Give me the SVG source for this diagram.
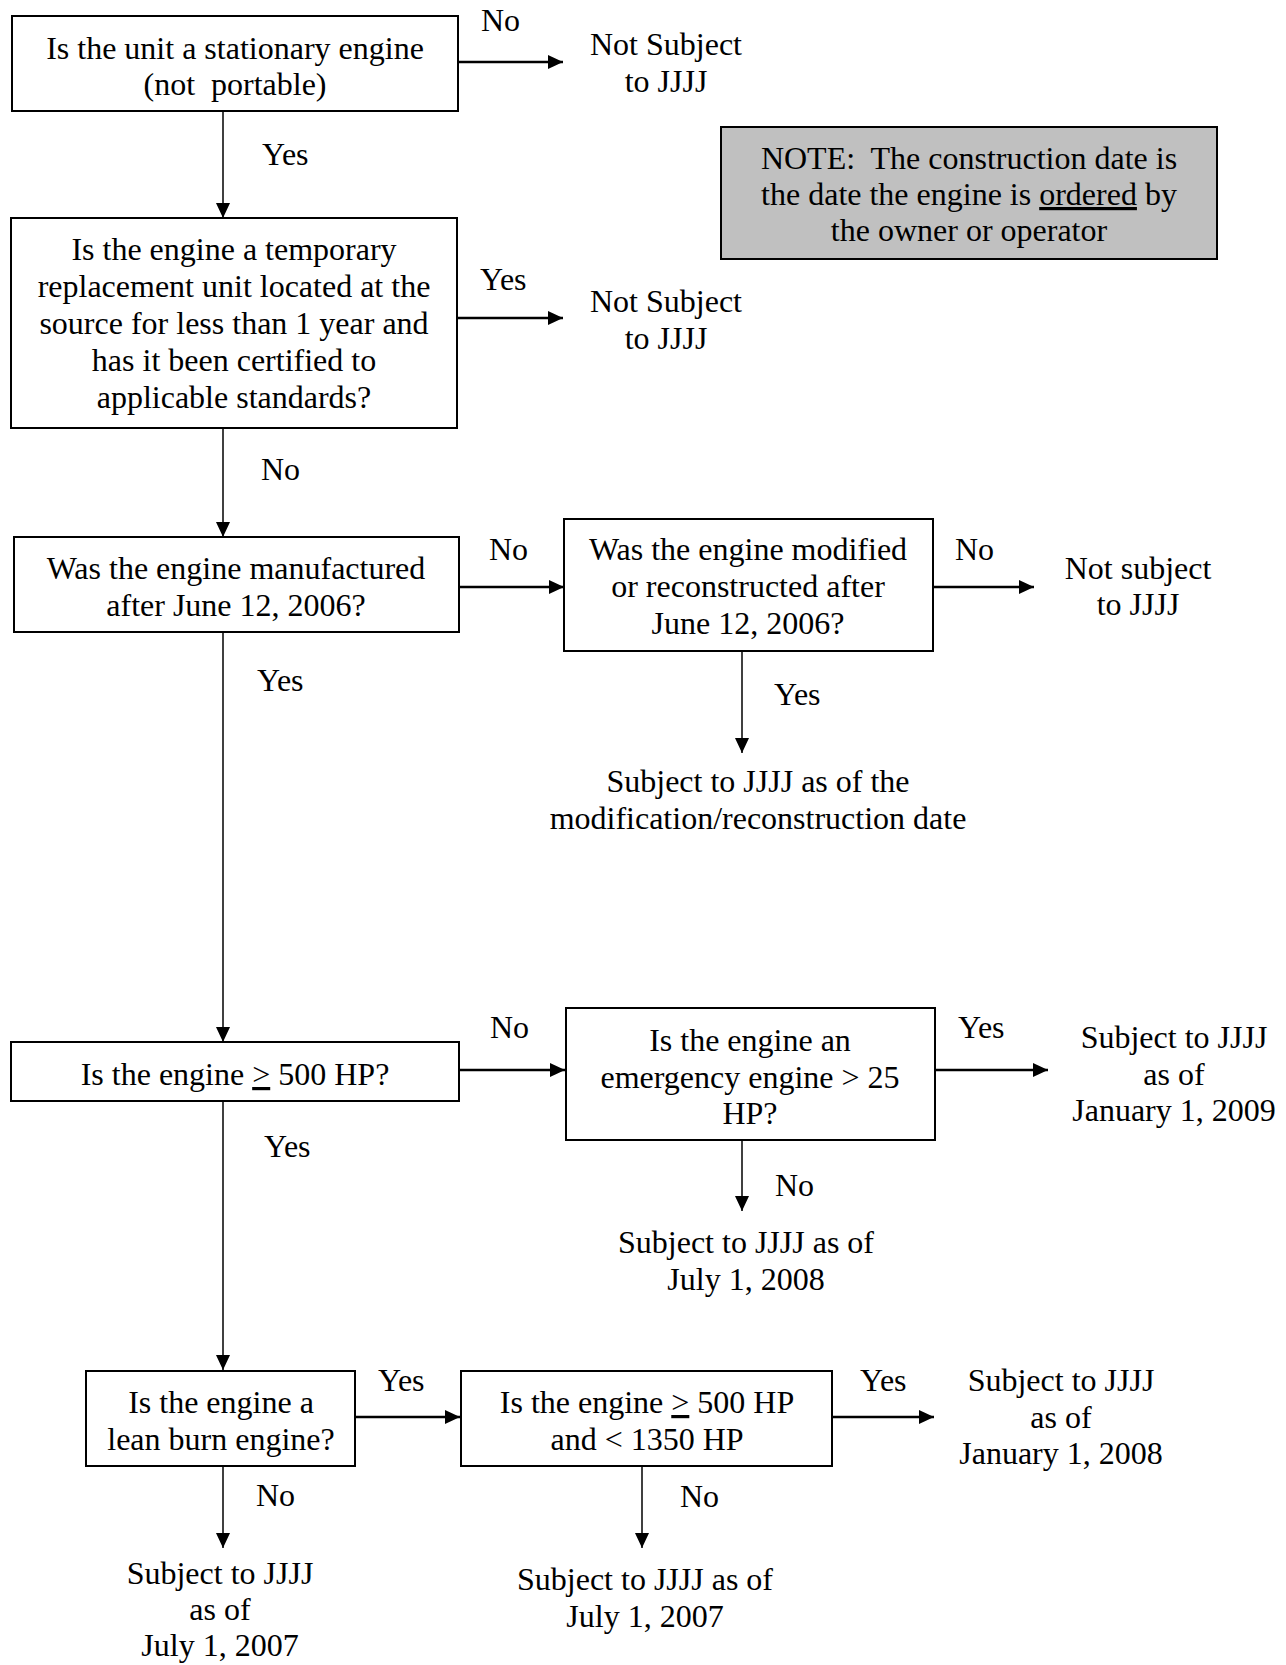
<svg xmlns="http://www.w3.org/2000/svg" width="1286" height="1665" viewBox="0 0 1286 1665">
<style>
text{font-family:"Liberation Serif","Times New Roman",serif;font-size:32px;fill:#000;}
.c{text-anchor:middle;}
.box{fill:#fff;stroke:#000;stroke-width:2;}
.note{fill:#c0c0c0;stroke:#000;stroke-width:2;}
.h{stroke:#000;stroke-width:2.5;fill:none;}
.v{stroke:#000;stroke-width:1.5;fill:none;}
.u{text-decoration:underline;}
</style>
<defs>
<marker id="ah" markerUnits="userSpaceOnUse" markerWidth="15" markerHeight="14" refX="15" refY="7" orient="auto">
<path d="M0,0 L15,7 L0,14 z" fill="#000"/>
</marker>
</defs>
<rect width="1286" height="1665" fill="#fff"/>

<g id="connectors">
<line class="h" x1="458" y1="62" x2="563" y2="62" marker-end="url(#ah)"/>
<line class="v" x1="223" y1="111" x2="223" y2="218" marker-end="url(#ah)"/>
<line class="h" x1="457" y1="318" x2="563" y2="318" marker-end="url(#ah)"/>
<line class="v" x1="223" y1="428" x2="223" y2="537" marker-end="url(#ah)"/>
<line class="h" x1="459" y1="587" x2="564" y2="587" marker-end="url(#ah)"/>
<line class="h" x1="933" y1="587" x2="1034" y2="587" marker-end="url(#ah)"/>
<line class="v" x1="742" y1="651" x2="742" y2="753" marker-end="url(#ah)"/>
<line class="v" x1="223" y1="632" x2="223" y2="1042" marker-end="url(#ah)"/>
<line class="h" x1="459" y1="1070" x2="565" y2="1070" marker-end="url(#ah)"/>
<line class="h" x1="935" y1="1070" x2="1048" y2="1070" marker-end="url(#ah)"/>
<line class="v" x1="742" y1="1140" x2="742" y2="1211" marker-end="url(#ah)"/>
<line class="v" x1="223" y1="1101" x2="223" y2="1370" marker-end="url(#ah)"/>
<line class="h" x1="355" y1="1417" x2="460" y2="1417" marker-end="url(#ah)"/>
<line class="h" x1="832" y1="1417" x2="934" y2="1417" marker-end="url(#ah)"/>
<line class="v" x1="223" y1="1466" x2="223" y2="1548" marker-end="url(#ah)"/>
<line class="v" x1="642" y1="1466" x2="642" y2="1548" marker-end="url(#ah)"/>
<text x="481" y="31">No</text>
<text x="262" y="165">Yes</text>
<text x="480" y="290">Yes</text>
<text x="261" y="480">No</text>
<text x="489" y="560">No</text>
<text x="955" y="560">No</text>
<text x="774" y="705">Yes</text>
<text x="257" y="691">Yes</text>
<text x="490" y="1038">No</text>
<text x="958" y="1038">Yes</text>
<text x="775" y="1196">No</text>
<text x="264" y="1157">Yes</text>
<text x="378" y="1391">Yes</text>
<text x="860" y="1391">Yes</text>
<text x="256" y="1506">No</text>
<text x="680" y="1507">No</text>
</g>

<g id="q1">
<rect class="box" x="12" y="16" width="446" height="95"/>
<text class="c" x="235" y="59">Is the unit a stationary engine</text>
<text class="c" x="235" y="95" xml:space="preserve">(not  portable)</text>
</g>
<g id="r1">
<text class="c" x="666" y="55">Not Subject</text>
<text class="c" x="666" y="92">to JJJJ</text>
</g>
<g id="note">
<rect class="note" x="721" y="127" width="496" height="132"/>
<text class="c" x="969" y="169" xml:space="preserve">NOTE:  The construction date is</text>
<text class="c" x="969" y="205">the date the engine is <tspan class="u">ordered</tspan> by</text>
<text class="c" x="969" y="241">the owner or operator</text>
</g>
<g id="q2">
<rect class="box" x="11" y="218" width="446" height="210"/>
<text class="c" x="234" y="260">Is the engine a temporary</text>
<text class="c" x="234" y="297">replacement unit located at the</text>
<text class="c" x="234" y="334">source for less than 1 year and</text>
<text class="c" x="234" y="371">has it been certified to</text>
<text class="c" x="234" y="408">applicable standards?</text>
</g>
<g id="r2">
<text class="c" x="666" y="312">Not Subject</text>
<text class="c" x="666" y="349">to JJJJ</text>
</g>
<g id="q3">
<rect class="box" x="14" y="537" width="445" height="95"/>
<text class="c" x="236" y="579">Was the engine manufactured</text>
<text class="c" x="236" y="616">after June 12, 2006?</text>
</g>
<g id="q4">
<rect class="box" x="564" y="519" width="369" height="132"/>
<text class="c" x="748" y="560">Was the engine modified</text>
<text class="c" x="748" y="597">or reconstructed after</text>
<text class="c" x="748" y="634">June 12, 2006?</text>
</g>
<g id="r4">
<text class="c" x="1138" y="579">Not subject</text>
<text class="c" x="1138" y="615">to JJJJ</text>
</g>
<g id="r4b">
<text class="c" x="758" y="792">Subject to JJJJ as of the</text>
<text class="c" x="758" y="829">modification/reconstruction date</text>
</g>
<g id="q5">
<rect class="box" x="11" y="1042" width="448" height="59"/>
<text class="c" x="235" y="1085">Is the engine <tspan class="u">&gt;</tspan> 500 HP?</text>
</g>
<g id="q6">
<rect class="box" x="566" y="1008" width="369" height="132"/>
<text class="c" x="750" y="1051">Is the engine an</text>
<text class="c" x="750" y="1088">emergency engine &gt; 25</text>
<text class="c" x="750" y="1124">HP?</text>
</g>
<g id="r6">
<text class="c" x="1174" y="1048">Subject to JJJJ</text>
<text class="c" x="1174" y="1085">as of</text>
<text class="c" x="1174" y="1121">January 1, 2009</text>
</g>
<g id="r6b">
<text class="c" x="746" y="1253">Subject to JJJJ as of</text>
<text class="c" x="746" y="1290">July 1, 2008</text>
</g>
<g id="q7">
<rect class="box" x="86" y="1371" width="269" height="95"/>
<text class="c" x="221" y="1413">Is the engine a</text>
<text class="c" x="221" y="1450">lean burn engine?</text>
</g>
<g id="q8">
<rect class="box" x="461" y="1371" width="371" height="95"/>
<text class="c" x="647" y="1413">Is the engine <tspan class="u">&gt;</tspan> 500 HP</text>
<text class="c" x="647" y="1450">and &lt; 1350 HP</text>
</g>
<g id="r8">
<text class="c" x="1061" y="1391">Subject to JJJJ</text>
<text class="c" x="1061" y="1428">as of</text>
<text class="c" x="1061" y="1464">January 1, 2008</text>
</g>
<g id="r7">
<text class="c" x="220" y="1584">Subject to JJJJ</text>
<text class="c" x="220" y="1620">as of</text>
<text class="c" x="220" y="1656">July 1, 2007</text>
</g>
<g id="r8b">
<text class="c" x="645" y="1590">Subject to JJJJ as of</text>
<text class="c" x="645" y="1627">July 1, 2007</text>
</g>
</svg>
